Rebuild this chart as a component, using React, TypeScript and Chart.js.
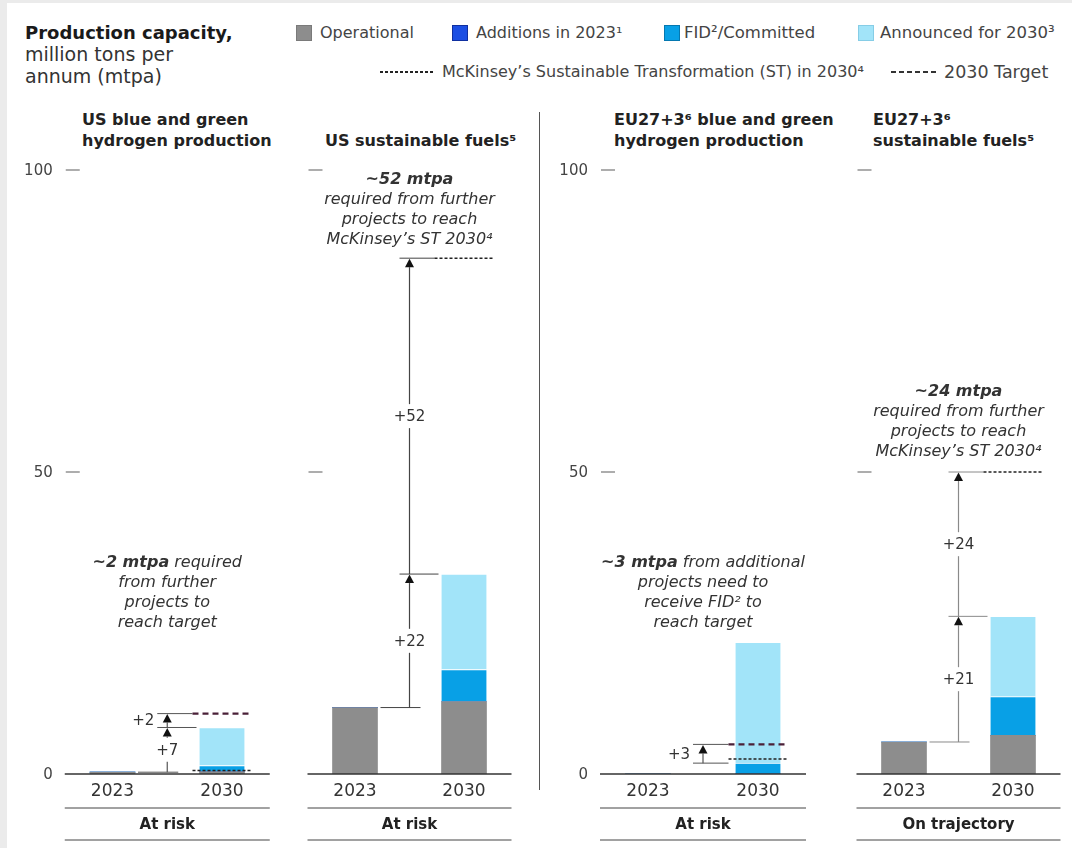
import React, { useEffect, useRef } from 'react';
import { Chart, registerables } from 'chart.js';

Chart.register(...registerables);

// ---------- DATA ----------
const categories = ['2023', '2030'];
const yTicks = [0, 50, 100];

// US blue and green hydrogen production
const usH2Operational = [0.3, 0.4];
const usH2Additions = [0, 0];
const usH2Fid = [0, 1.0];
const usH2Announced = [0, 6.3];
const usH2Target = 10;
const usH2St = 0.6;
const usH2StepLabels = ['+7', '+2'];

// US sustainable fuels
const usFuelOperational = [11, 12];
const usFuelAdditions = [0, 0];
const usFuelFid = [0, 5.3];
const usFuelAnnounced = [0, 15.8];
const usFuelSt = 85.4;
const usFuelStepLabels = ['+22', '+52'];

// EU27+3 blue and green hydrogen production
const euH2Operational = [0, 0];
const euH2Additions = [0, 0];
const euH2Fid = [0, 1.8];
const euH2Announced = [0, 20.0];
const euH2Target = 4.9;
const euH2St = 2.5;
const euH2StepLabels = ['+3'];

// EU27+3 sustainable fuels
const euFuelOperational = [5.3, 6.4];
const euFuelAdditions = [0, 0];
const euFuelFid = [0, 6.4];
const euFuelAnnounced = [0, 13.3];
const euFuelSt = 50;
const euFuelStepLabels = ['+21', '+24'];

const statusLabels = ['At risk', 'At risk', 'At risk', 'On trajectory'];

const legendLabels = ['Operational', 'Additions in 2023¹', 'FID²/Committed', 'Announced for 2030³'];
const stLegend = 'McKinsey\u2019s Sustainable Transformation (ST) in 2030\u2074';
const targetLegend = '2030 Target';

// ---------- STYLE ----------
const FONT = '"DejaVu Sans", "Noto Sans", sans-serif';
const C_OP = '#8d8d8d';
const C_ADD = '#1c4fe3';
const C_FID = '#08a0e6';
const C_ANN = '#a2e4f9';
const C_TARGET = '#4a2038';
const C_ST = '#222222';
const BAR_W = 45;
const CANVAS_TOP = 150;
const CANVAS_H = 698;

type Seg = { t: string; b?: boolean };

const sum = (...arrs: number[][]) => (i: number) => arrs.reduce((s, a) => s + a[i], 0);

const usH2Total = sum(usH2Operational, usH2Additions, usH2Fid, usH2Announced);
const usFuelTotal = sum(usFuelOperational, usFuelAdditions, usFuelFid, usFuelAnnounced);
const euH2Committed = sum(euH2Operational, euH2Additions, euH2Fid);
const euFuelTotal = sum(euFuelOperational, euFuelAdditions, euFuelFid, euFuelAnnounced);

const panels = [
  {
    id: 'p1',
    canvasL: 10, canvasW: 280, padL: 47.75, padR: 13.25,
    data: [usH2Operational, usH2Additions, usH2Fid, usH2Announced],
    levels: [usH2Total(0), usH2Total(1), usH2Target],
    stepLabels: usH2StepLabels, sides: ['inline', 'left'], from2023: true,
    target: usH2Target as number | null, st: usH2St,
    tickLabels: true, status: statusLabels[0], lineColor: '#555',
    noteAnchor: { value: 35, offset: 0 },
    note: [[{ t: '~2 mtpa', b: true }, { t: ' required' }], [{ t: 'from further' }], [{ t: 'projects to' }], [{ t: 'reach target' }]] as Seg[][],
  },
  {
    id: 'p2',
    canvasL: 290, canvasW: 248, padL: 10.5, padR: 19.5,
    data: [usFuelOperational, usFuelAdditions, usFuelFid, usFuelAnnounced],
    levels: [usFuelTotal(0), usFuelTotal(1), usFuelSt],
    stepLabels: usFuelStepLabels, sides: ['inline', 'inline'], from2023: true,
    target: null, st: usFuelSt,
    tickLabels: false, status: statusLabels[1], lineColor: '#444',
    noteAnchor: { value: usFuelSt, offset: -78 },
    note: [[{ t: '~52 mtpa', b: true }], [{ t: 'required from further' }], [{ t: 'projects to reach' }], [{ t: 'McKinsey\u2019s ST 2030\u2074' }]] as Seg[][],
  },
  {
    id: 'p3',
    canvasL: 545, canvasW: 290, padL: 48, padR: 22,
    data: [euH2Operational, euH2Additions, euH2Fid, euH2Announced],
    levels: [euH2Committed(1), euH2Target],
    stepLabels: euH2StepLabels, sides: ['left'], from2023: false,
    target: euH2Target as number | null, st: euH2St,
    tickLabels: true, status: statusLabels[2], lineColor: '#555',
    noteAnchor: { value: 35, offset: 0 },
    note: [[{ t: '~3 mtpa', b: true }, { t: ' from additional' }], [{ t: 'projects need to' }], [{ t: 'receive FID\u00b2 to' }], [{ t: 'reach target' }]] as Seg[][],
  },
  {
    id: 'p4',
    canvasL: 838, canvasW: 234, padL: 11.5, padR: 4.5,
    data: [euFuelOperational, euFuelAdditions, euFuelFid, euFuelAnnounced],
    levels: [euFuelTotal(0), euFuelTotal(1), euFuelSt],
    stepLabels: euFuelStepLabels, sides: ['inline', 'inline'], from2023: true,
    target: null, st: euFuelSt,
    tickLabels: false, status: statusLabels[3], lineColor: '#8a8a8a',
    noteAnchor: { value: euFuelSt, offset: -80 },
    note: [[{ t: '~24 mtpa', b: true }], [{ t: 'required from further' }], [{ t: 'projects to reach' }], [{ t: 'McKinsey\u2019s ST 2030\u2074' }]] as Seg[][],
  },
];

type PanelCfg = (typeof panels)[number];

function hline(ctx: CanvasRenderingContext2D, x1: number, x2: number, y: number, color: string, w = 1, dash: number[] = []) {
  ctx.save();
  ctx.strokeStyle = color;
  ctx.lineWidth = w;
  ctx.setLineDash(dash);
  ctx.beginPath();
  ctx.moveTo(x1, y);
  ctx.lineTo(x2, y);
  ctx.stroke();
  ctx.restore();
}

function vline(ctx: CanvasRenderingContext2D, x: number, y1: number, y2: number, color: string, w = 1) {
  ctx.save();
  ctx.strokeStyle = color;
  ctx.lineWidth = w;
  ctx.beginPath();
  ctx.moveTo(x, y1);
  ctx.lineTo(x, y2);
  ctx.stroke();
  ctx.restore();
}

function makePlugin(p: PanelCfg) {
  return {
    id: 'decor_' + p.id,
    afterDraw(chart: any) {
      const ctx: CanvasRenderingContext2D = chart.ctx;
      const ys = chart.scales.y;
      const ca = chart.chartArea;
      const meta = chart.getDatasetMeta(0);
      const c0 = meta.data[0].x;
      const c1 = meta.data[1].x;
      const half = BAR_W / 2;
      const b0R = c0 + half;
      const b1L = c1 - half;
      const b1R = c1 + half;
      const mid = (b0R + b1L) / 2;
      const axL = ca.left + 7;
      const axR = ca.right - 7;
      const y0 = ys.getPixelForValue(0);
      const lc = p.lineColor;

      ctx.save();
      // y ticks
      ctx.font = `15px ${FONT}`;
      ctx.fillStyle = '#444';
      ctx.textAlign = 'right';
      ctx.textBaseline = 'middle';
      yTicks.forEach((v) => {
        const y = ys.getPixelForValue(v);
        if (v !== 0) hline(ctx, axL + 1, axL + 15, y, '#777', 1.2);
        if (p.tickLabels) ctx.fillText(String(v), axL - 12, y + 1);
      });

      // axis baseline
      hline(ctx, axL, axR, y0, '#333', 1.5);

      // category labels
      ctx.font = `17px ${FONT}`;
      ctx.fillStyle = '#333';
      ctx.textAlign = 'center';
      categories.forEach((c, i) => {
        ctx.fillText(c, meta.data[i].x, y0 + 18);
      });

      // status band
      hline(ctx, axL, axR, y0 + 34, '#444', 1);
      hline(ctx, axL, axR, y0 + 66, '#444', 1);
      ctx.font = `bold 15px ${FONT}`;
      ctx.fillStyle = '#222';
      ctx.fillText(p.status, (axL + axR) / 2, y0 + 51);

      // step connectors
      const lv = p.levels.map((v) => ys.getPixelForValue(v));
      lv.forEach((y, i) => {
        const isLast = i === lv.length - 1;
        if (i === 0) {
          if (p.from2023) hline(ctx, b0R + 3, mid + 11, y, lc, 1);
          else hline(ctx, mid - 10, b1L - 7, y, lc, 1);
        } else if (isLast) {
          hline(ctx, mid - 10, b1L - 7, y, lc, 1);
        } else {
          hline(ctx, mid - 10, b1L - 3, y, lc, 1);
        }
      });

      // arrows
      for (let i = 0; i < lv.length - 1; i++) {
        const yFrom = lv[i];
        const yTo = lv[i + 1];
        const headH = 9;
        const side = p.sides[i];
        const label = p.stepLabels[i];
        const my = (yFrom + yTo) / 2;
        if (side === 'inline') {
          vline(ctx, mid, yFrom, my + 12, lc, 1.2);
          vline(ctx, mid, my - 12, yTo + headH, lc, 1.2);
          ctx.font = `15px ${FONT}`;
          ctx.fillStyle = '#333';
          ctx.textAlign = 'center';
          ctx.textBaseline = 'middle';
          ctx.fillText(label, mid, my + 1);
        } else {
          vline(ctx, mid, yFrom, yTo + headH, lc, 1.2);
          ctx.font = `15px ${FONT}`;
          ctx.fillStyle = '#333';
          ctx.textAlign = 'right';
          ctx.textBaseline = 'middle';
          ctx.fillText(label, mid - 13, my + 1);
        }
        ctx.fillStyle = '#111';
        ctx.beginPath();
        ctx.moveTo(mid, yTo + 0.5);
        ctx.lineTo(mid - 4.5, yTo + headH);
        ctx.lineTo(mid + 4.5, yTo + headH);
        ctx.closePath();
        ctx.fill();
      }

      // reference lines
      if (p.target !== null) {
        hline(ctx, b1L - 7, b1R + 7, ys.getPixelForValue(p.target), C_TARGET, 2.2, [6, 4]);
      }
      hline(ctx, b1L - 7, b1R + 7, ys.getPixelForValue(p.st), C_ST, 1.5, [3, 2]);

      // annotation note
      const noteY = ys.getPixelForValue(p.noteAnchor.value) + p.noteAnchor.offset;
      ctx.fillStyle = '#333';
      ctx.textBaseline = 'middle';
      ctx.textAlign = 'left';
      p.note.forEach((line, li) => {
        const fonts = line.map((s) => (s.b ? `italic bold 16px ${FONT}` : `italic 16px ${FONT}`));
        const widths = line.map((s, k) => {
          ctx.font = fonts[k];
          return ctx.measureText(s.t).width;
        });
        const total = widths.reduce((a, b) => a + b, 0);
        let x = mid - total / 2;
        line.forEach((s, k) => {
          ctx.font = fonts[k];
          ctx.fillText(s.t, x, noteY + li * 20);
          x += widths[k];
        });
      });
      ctx.restore();
    },
  };
}

function Panel({ p }: { p: PanelCfg }) {
  const ref = useRef<HTMLCanvasElement | null>(null);
  useEffect(() => {
    if (!ref.current) return;
    const colors = [C_OP, C_ADD, C_FID, C_ANN];
    const chart = new Chart(ref.current, {
      type: 'bar',
      data: {
        labels: categories,
        datasets: p.data.map((d, i) => ({
          label: legendLabels[i],
          data: d,
          backgroundColor: colors[i],
          borderColor: '#ffffff',
          borderWidth: i >= 2 ? { top: 1, left: 0, right: 0, bottom: 0 } : 0,
          barThickness: BAR_W,
        })),
      },
      options: {
        responsive: false,
        maintainAspectRatio: false,
        animation: false,
        layout: { padding: { top: 20, bottom: 74, left: p.padL, right: p.padR } },
        plugins: { legend: { display: false }, tooltip: { enabled: false } },
        scales: {
          x: { type: 'category', stacked: true, offset: true, display: false, grid: { display: false } },
          y: { type: 'linear', stacked: true, min: 0, max: 100, display: false, grid: { display: false } },
        },
      },
      plugins: [makePlugin(p)],
    } as any);
    return () => chart.destroy();
  }, []);
  return (
    <canvas
      ref={ref}
      width={p.canvasW}
      height={CANVAS_H}
      style={{ position: 'absolute', left: p.canvasL, top: CANVAS_TOP, width: p.canvasW, height: CANVAS_H }}
    />
  );
}

const txt = (left: number, cy: number, text: string, size: number, bold = false, color = '#222'): React.ReactElement => (
  <div
    key={text + left + cy}
    style={{
      position: 'absolute',
      left,
      top: cy - 11,
      height: 22,
      lineHeight: '22px',
      fontSize: size,
      fontWeight: bold ? 700 : 400,
      fontFamily: FONT,
      color,
      whiteSpace: 'nowrap',
    }}
  >
    {text}
  </div>
);

const square = (left: number, color: string, border: string) => (
  <div
    key={'sq' + left}
    style={{ position: 'absolute', left, top: 25, width: 16, height: 16, background: color, border: `1px solid ${border}`, boxSizing: 'border-box' }}
  />
);

export default function App() {
  return (
    <div style={{ position: 'fixed', left: 0, top: 0, width: 1072, height: 848, background: '#ebebeb', overflow: 'hidden' }}>
      <div style={{ position: 'absolute', left: 7, top: 3, width: 1065, height: 845, background: '#ffffff' }} />
      {/* Header */}
      {txt(25, 33, 'Production capacity,', 18, true, '#1a1a1a')}
      {txt(25, 54, 'million tons per', 19, false, '#333')}
      {txt(25, 76, 'annum (mtpa)', 19, false, '#333')}

      {square(296, C_OP, '#7a7a7a')}
      {txt(320, 33, legendLabels[0], 16, false, '#444')}
      {square(452, C_ADD, '#1030a0')}
      {txt(476, 33, legendLabels[1], 16, false, '#444')}
      {square(664, C_FID, '#0578b0')}
      {txt(684, 33, legendLabels[2], 16.5, false, '#444')}
      {square(858, C_ANN, '#86cde6')}
      {txt(880, 33, legendLabels[3], 16.5, false, '#444')}

      <div
        style={{
          position: 'absolute', left: 380, top: 71, width: 53, height: 1.6,
          background: `repeating-linear-gradient(to right, ${C_ST} 0 3px, transparent 3px 5px)`,
        }}
      />
      {txt(442, 72, stLegend, 16, false, '#444')}
      <div
        style={{
          position: 'absolute', left: 891, top: 71, width: 46, height: 2,
          background: `repeating-linear-gradient(to right, #333 0 5px, transparent 5px 8px)`,
        }}
      />
      {txt(944, 72, targetLegend, 17.5, false, '#444')}

      {/* Panel titles */}
      {txt(82, 120, 'US blue and green', 16, true)}
      {txt(82, 141, 'hydrogen production', 16, true)}
      {txt(325, 141, 'US sustainable fuels\u2075', 16, true)}
      {txt(614, 120, 'EU27+3\u2076 blue and green', 16, true)}
      {txt(614, 141, 'hydrogen production', 16, true)}
      {txt(873, 120, 'EU27+3\u2076', 16, true)}
      {txt(873, 141, 'sustainable fuels\u2075', 16, true)}

      {/* divider */}
      <div style={{ position: 'absolute', left: 539, top: 112, width: 1, height: 678, background: '#555' }} />

      {panels.map((p) => (
        <Panel key={p.id} p={p} />
      ))}
    </div>
  );
}
